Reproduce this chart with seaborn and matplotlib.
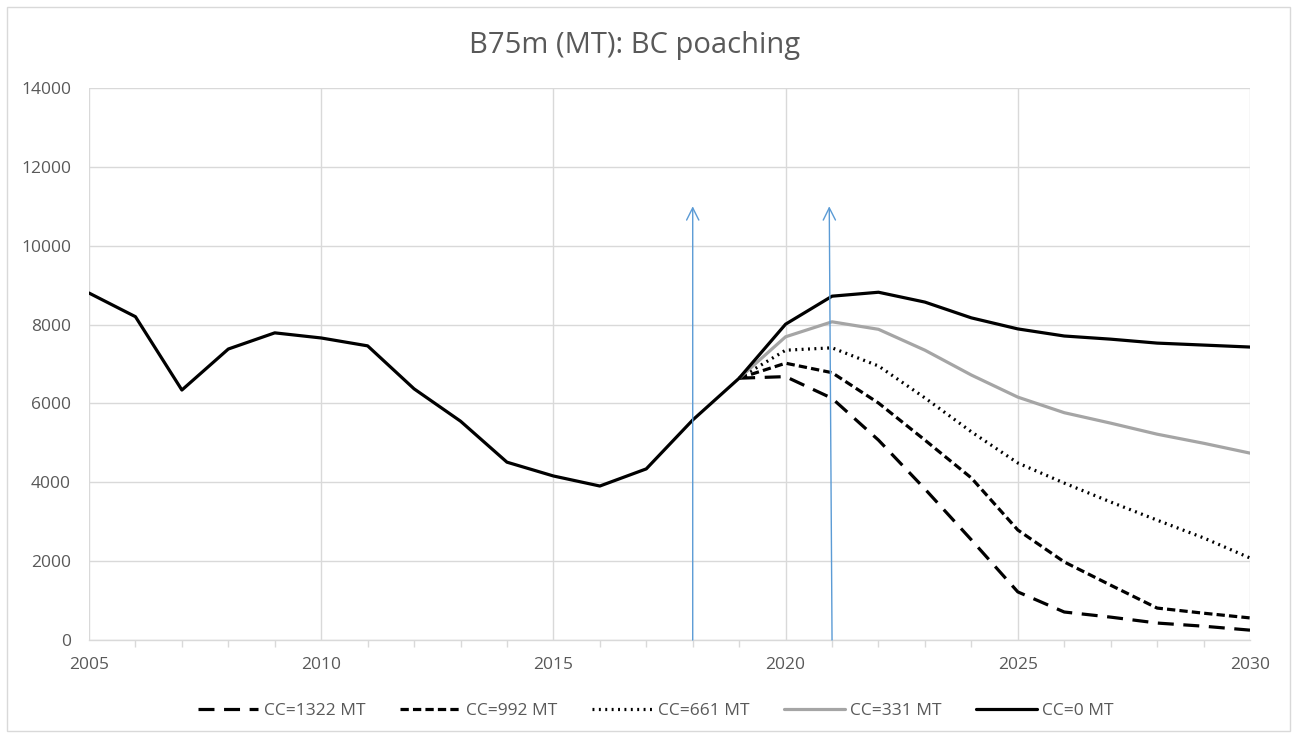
import numpy as np
import pandas as pd
import matplotlib
matplotlib.use("Agg")
import matplotlib.pyplot as plt
from matplotlib.patches import Rectangle
import seaborn as sns

# Historical trajectory (shared by all scenarios) and projections per catch cap
years_hist = [2005, 2006, 2007, 2008, 2009, 2010, 2011, 2012, 2013, 2014,
              2015, 2016, 2017, 2018, 2019]
b_hist = [8800, 8200, 6340, 7380, 7790, 7660, 7460, 6370, 5550, 4510,
          4160, 3905, 4340, 5580, 6640]

years_proj = [2019, 2020, 2021, 2022, 2023, 2024, 2025, 2026, 2027, 2028, 2029, 2030]
cc_0 = [6640, 8010, 8720, 8820, 8570, 8170, 7890, 7710, 7630, 7530, 7480, 7430]
cc_331 = [6640, 7690, 8070, 7880, 7350, 6720, 6160, 5765, 5500, 5220, 4990, 4740]
cc_661 = [6640, 7350, 7410, 6950, 6140, 5280, 4490, 3980, 3500, 3040, 2590, 2080]
cc_992 = [6640, 7020, 6780, 6010, 5070, 4110, 2790, 1980, 1390, 810, 680, 560]
cc_1322 = [6640, 6680, 6130, 5070, 3830, 2540, 1220, 710, 580, 430, 350, 250]

series_labels = ["CC=1322 MT", "CC=992 MT", "CC=661 MT", "CC=331 MT", "CC=0 MT"]
arrow_years = [2018, 2021]
arrow_top = 11000

title = "B75m (MT): BC poaching"

sns.set_theme(style="white")
plt.rcParams["font.family"] = ["Open Sans", "DejaVu Sans"]

# Long-format table: projections for each cap; the no-catch line carries the history
rows = []
for lab, vals in zip(series_labels, [cc_1322, cc_992, cc_661, cc_331, cc_0]):
    if lab == "CC=0 MT":
        yrs = years_hist[:-1] + years_proj
        vv = b_hist[:-1] + vals
    else:
        yrs, vv = years_proj, vals
    for y, v in zip(yrs, vv):
        rows.append({"Year": y, "Biomass": v, "Scenario": lab})
df = pd.DataFrame(rows)

palette = {"CC=1322 MT": "#000000", "CC=992 MT": "#000000", "CC=661 MT": "#000000",
           "CC=331 MT": "#A5A5A5", "CC=0 MT": "#000000"}
dashes = {"CC=1322 MT": (5, 3), "CC=992 MT": (2.6, 1.3), "CC=661 MT": (0.6, 1.4),
          "CC=331 MT": "", "CC=0 MT": ""}

fig = plt.figure(figsize=(13.01, 7.38), dpi=100)
ax = fig.add_axes([89 / 1301, 1 - 640 / 738, (1250 - 89) / 1301, (640 - 88) / 738])

sns.lineplot(data=df, x="Year", y="Biomass", hue="Scenario", style="Scenario",
             hue_order=series_labels, style_order=series_labels,
             palette=palette, dashes=dashes, linewidth=2.3, ax=ax, legend=True)

# Management markers
for yr in arrow_years:
    ax.annotate("", xy=(yr - (0.06 if yr == 2021 else 0), arrow_top), xytext=(yr, 0),
                arrowprops=dict(arrowstyle="->", color="#5B9BD5", lw=1.0,
                                mutation_scale=22, shrinkA=0, shrinkB=0))

ax.set_xlim(2005, 2030)
ax.set_ylim(0, 14000)
ax.set_xticks(range(2005, 2031, 5))
ax.set_xticks(range(2005, 2031), minor=True)
ax.set_yticks(range(0, 14001, 2000))
ax.grid(True, which="major", color="#D9D9D9", linewidth=1.0)
ax.set_axisbelow(True)
for s in ["top", "right", "left"]:
    ax.spines[s].set_visible(False)
ax.spines["bottom"].set_color("#D9D9D9")
ax.spines["bottom"].set_linewidth(1.0)
ax.tick_params(axis="x", which="both", bottom=True, length=5, color="#D9D9D9",
               labelcolor="#595959", labelsize=12.5, pad=12)
ax.tick_params(axis="x", which="major", length=0)
ax.tick_params(axis="y", length=0, labelcolor="#595959", labelsize=12.5, pad=13)
ax.set_xlabel("")
ax.set_ylabel("")

fig.text(635 / 1301, 1 - 46 / 738, title, fontsize=21, color="#595959",
         ha="center", va="center")

handles, labels = ax.get_legend_handles_labels()
ax.legend(handles, labels, loc="center", bbox_to_anchor=(0.488, -0.128), ncol=5,
          frameon=False, fontsize=12.5, handlelength=3.5, columnspacing=2.0,
          handletextpad=0.3, labelcolor="#595959")

fig.patches.append(Rectangle((7 / 1301, 1 - 731 / 738), 1283 / 1301, 724 / 738,
                             transform=fig.transFigure, fill=False,
                             edgecolor="#D9D9D9", linewidth=1.0))

fig.savefig("out.png", dpi=100, facecolor="white")
